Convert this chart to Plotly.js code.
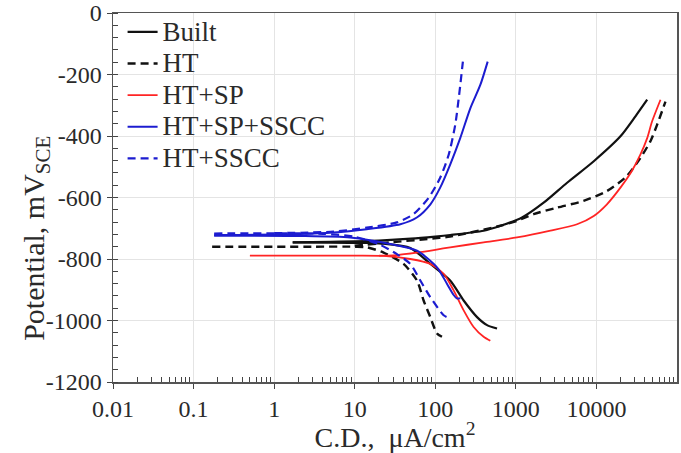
<!DOCTYPE html>
<html>
<head>
<meta charset="utf-8">
<script src="https://cdn.plot.ly/plotly-3.0.1.min.js"></script>
<style>
  html, body { margin: 0; padding: 0; background: #fff; }
  #chart { width: 681px; height: 453px; }
</style>
</head>
<body>
<div id="chart"></div>
<script>
// Potentiodynamic polarization curves: current density (µA/cm²) vs potential (mV vs SCE).
// Each condition is split into a cathodic branch (from the low-current end down to the
// cathodic limit) and an anodic branch (from where it leaves the plateau up to the anodic limit).

const seriesNames = ["Built", "HT", "HT+SP", "HT+SP+SSCC", "HT+SSCC"];

// Built
const builtCathI = [1.7, 5, 15, 23, 49, 87, 153, 225, 330, 439, 584];
const builtCathE = [-746, -747, -748, -750, -764, -816, -870, -935, -989, -1015, -1026];
const builtAnI = [1.7, 5, 20, 50, 100, 153, 398, 646, 1194, 2213, 4325, 9270, 19860, 30500, 42650];
const builtAnE = [-746, -744, -740, -734, -727, -722, -708, -692, -665, -617, -552, -482, -401, -336, -282];

// HT
const htCathI = [0.17, 3, 10, 14.2, 22.8, 40.4, 59.3, 71.6, 86.7, 105, 121];
const htCathE = [-760, -760, -760, -762, -779, -816, -870, -935, -989, -1042, -1053];
const htAnI = [10, 30, 80, 153, 642, 1033, 1660, 3236, 6920, 13500, 23900, 35200, 46800, 56700, 71900];
const htAnE = [-757, -745, -735, -727, -692, -676, -654, -633, -611, -579, -530, -471, -417, -363, -288];

// HT+SP
const spCathI = [0.5, 10, 22.8, 48.9, 86.7, 127, 169, 225, 299, 398, 482];
const spCathE = [-789, -789, -790, -800, -816, -848, -902, -967, -1021, -1053, -1066];
const spAnI = [20, 30, 59, 100, 153, 398, 1033, 2690, 5750, 9270, 13500, 19860, 27500, 35200, 42650, 49000, 62400];
const spAnE = [-789, -788, -779, -770, -762, -746, -730, -708, -687, -660, -622, -568, -514, -460, -407, -353, -282];

// HT+SP+SSCC
const spScCathI = [0.18, 2, 8.8, 27.6, 59.3, 105, 140, 169, 185, 205];
const spScCathE = [-724, -725, -730, -751, -773, -827, -881, -917, -928, -928];
const spScAnI = [0.18, 2.1, 5.45, 14.1, 36.8, 59, 87, 115, 153, 204, 272, 362, 447];
const spScAnE = [-722, -719, -714, -703, -687, -665, -622, -568, -493, -407, -310, -234, -158];

// HT+SSCC
const scCathI = [0.18, 4, 10, 20, 33.4, 48.9, 65.2, 86.7, 127, 140];
const scCathE = [-717, -718, -728, -752, -784, -816, -870, -924, -983, -989];
const scAnI = [1, 5.45, 14.1, 33.4, 53.7, 82.6, 115, 147, 177, 200, 220];
const scAnE = [-716, -711, -698, -681, -654, -601, -536, -460, -363, -255, -158];

const xTickVals = [0.01, 0.1, 1, 10, 100, 1000, 10000];
const xTickText = ["0.01", "0.1", "1", "10", "100", "1000", "10000"];
const yTickVals = [0, -200, -400, -600, -800, -1000, -1200];
const yTickText = ["0", "-200", "-400", "-600", "-800", "-1000", "-1200"];

const styles = [
  { color: "#111111", dash: "solid", width: 2.2 },
  { color: "#111111", dash: "8px,5px", width: 2.4 },
  { color: "#ff2424", dash: "solid", width: 1.8 },
  { color: "#1c1cd0", dash: "solid", width: 2.0 },
  { color: "#1c1cd0", dash: "8px,5px", width: 2.2 }
];

const branches = [
  [builtCathI, builtCathE, builtAnI, builtAnE],
  [htCathI, htCathE, htAnI, htAnE],
  [spCathI, spCathE, spAnI, spAnE],
  [spScCathI, spScCathE, spScAnI, spScAnE],
  [scCathI, scCathE, scAnI, scAnE]
];

// legend rows are packed tighter than the legend entry text size
const legendText = name => '<span style="font-size:27px">' + name + '</span>';

const traces = [];
branches.forEach((b, i) => {
  const line = { color: styles[i].color, dash: styles[i].dash, width: styles[i].width, shape: "spline", smoothing: 0.7 };
  traces.push({
    x: b[0], y: b[1], type: "scatter", mode: "lines", name: legendText(seriesNames[i]),
    legendgroup: seriesNames[i], showlegend: true, line: line
  });
  traces.push({
    x: b[2], y: b[3], type: "scatter", mode: "lines", name: seriesNames[i],
    legendgroup: seriesNames[i], showlegend: false, line: line
  });
});

// minor ticks at 2..9 of every decade
const xMinor = [];
for (let d = -2; d < 5; d++) {
  for (let k = 2; k <= 9; k++) xMinor.push(k * Math.pow(10, d));
}

const fontFamily = "Liberation Serif, Times New Roman, serif";
const textColor = "#2a2a2a";

const layout = {
  width: 681,
  height: 453,
  margin: { l: 113, r: 4, t: 13, b: 71 },
  paper_bgcolor: "#ffffff",
  plot_bgcolor: "#ffffff",
  font: { family: fontFamily, color: textColor, size: 24 },
  showlegend: true,
  legend: {
    x: 0.017, y: 1.005, xanchor: "left", yanchor: "top",
    bgcolor: "rgba(255,255,255,0)",
    font: { family: fontFamily, size: 22, color: textColor },
    itemwidth: 30,
    tracegroupgap: 0
  },
  xaxis: {
    type: "log",
    range: [-2, 5],
    tickmode: "array",
    tickvals: xTickVals,
    ticktext: xTickText,
    ticks: "outside",
    ticklen: 5,
    tickcolor: "#444444",
    tickfont: { family: fontFamily, size: 24, color: textColor },
    ticklabeloverflow: "allow",
    showline: true,
    linecolor: "#555555",
    linewidth: 1.5,
    mirror: true,
    showgrid: true,
    gridcolor: "#e4e4e4",
    gridwidth: 1,
    zeroline: false,
    minor: { tickmode: "array", tickvals: xMinor, ticks: "inside", ticklen: 5, tickcolor: "#444444", showgrid: false },
    title: { text: "C.D.,  μA/cm<sup>2</sup>", font: { family: fontFamily, size: 28, color: textColor }, standoff: 2 },
    automargin: false
  },
  yaxis: {
    range: [-1200, 0],
    tickmode: "array",
    tickvals: yTickVals,
    ticktext: yTickText,
    ticks: "outside",
    ticklen: 5,
    tickcolor: "#444444",
    tickfont: { family: fontFamily, size: 24, color: textColor },
    ticklabeloverflow: "allow",
    showline: true,
    linecolor: "#555555",
    linewidth: 1.5,
    mirror: true,
    showgrid: true,
    gridcolor: "#e4e4e4",
    gridwidth: 1,
    zeroline: false,
    minor: { tickmode: "linear", tick0: 0, dtick: 40, ticks: "inside", ticklen: 5, tickcolor: "#444444", showgrid: false },
    automargin: false
  },
  annotations: [{
    // vertical axis title, sitting a little below the axis midpoint
    text: "Potential, mV<sub>SCE</sub>",
    xref: "paper", yref: "paper",
    x: -0.137, y: 0.39,
    xanchor: "center", yanchor: "middle",
    textangle: -90,
    showarrow: false,
    font: { family: fontFamily, size: 30, color: textColor }
  }]
};

Plotly.newPlot("chart", traces, layout, { displayModeBar: false, staticPlot: true });
</script>
</body>
</html>
